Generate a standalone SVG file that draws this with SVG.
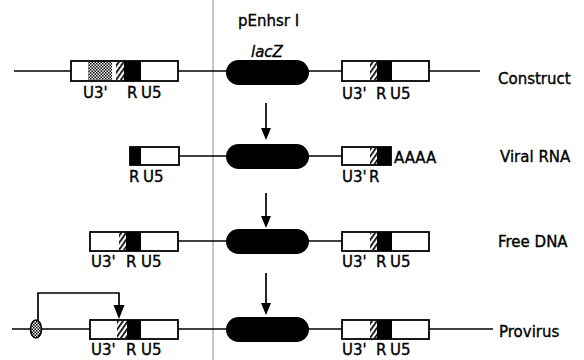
<svg xmlns="http://www.w3.org/2000/svg" width="584" height="360" viewBox="0 0 584 360">
<style>
.t{font-family:"DejaVu Sans","Liberation Sans",sans-serif;font-size:15px;fill:#000;stroke:#000;stroke-width:0.35}
.box{fill:#fff;stroke:#000;stroke-width:1.8}
.blk{fill:#000}
.ln{stroke:#000;stroke-width:1.7;fill:none}
.oval{fill:#000}
</style>
<defs>
<pattern id="stip" patternUnits="userSpaceOnUse" width="3" height="3">
<rect width="3" height="3" fill="#fff"/>
<rect width="1.5" height="1.5" fill="#000"/>
<rect x="1.5" y="1.5" width="1.5" height="1.5" fill="#000"/>
</pattern>
<pattern id="hatch" patternUnits="userSpaceOnUse" width="4" height="4" patternTransform="rotate(-55)">
<rect width="4" height="4" fill="#fff"/>
<rect width="4" height="1.7" fill="#000"/>
</pattern>
</defs>

<line x1="213" y1="0" x2="213" y2="360" stroke="#888" stroke-width="1"/>

<g id="connectors">
<line class="ln" x1="14" y1="71" x2="71" y2="71"/>
<line class="ln" x1="178" y1="71" x2="342" y2="71"/>
<line class="ln" x1="429" y1="71" x2="480" y2="71"/>
<line class="ln" x1="179" y1="156" x2="342" y2="156"/>
<line class="ln" x1="178" y1="241" x2="342" y2="241"/>
<line class="ln" x1="12" y1="329" x2="90" y2="329"/>
<line class="ln" x1="178" y1="329" x2="342" y2="329"/>
<line class="ln" x1="429" y1="329" x2="493" y2="329"/>
<line class="ln" x1="266" y1="103" x2="266" y2="128"/>
<path d="M261,128 L271,128 L266,140 Z" fill="#000"/>
<line class="ln" x1="266" y1="193" x2="266" y2="216"/>
<path d="M261,216 L271,216 L266,228 Z" fill="#000"/>
<line class="ln" x1="266" y1="273" x2="266" y2="303"/>
<path d="M261,303 L271,303 L266,315 Z" fill="#000"/>
<path class="ln" d="M38,321 V293 H119 V306"/>
<path d="M113.5,305 L124.5,305 L119,319 Z" fill="#000"/>
</g>

<g id="title">
<text class="t" x="238" y="26" font-size="14">pEnhsr I</text>
<text class="t" x="251" y="57" font-style="italic">lacZ</text>
</g>

<!-- Row 1: Construct -->
<g id="construct-ltr5">
<rect class="box" x="71" y="61" width="107" height="20"/>
<rect x="88" y="62" width="24" height="18" fill="url(#stip)"/>
<rect x="116" y="62" width="8" height="18" fill="url(#hatch)"/>
<rect class="blk" x="124" y="61" width="17" height="20"/>
<text class="t" x="83" y="98">U3'</text>
<text class="t" x="127" y="98">R</text>
<text class="t" x="141" y="98">U5</text>
</g>
<g id="construct-lacz"><rect class="oval" x="226" y="60" width="83" height="25" rx="12.5"/></g>
<g id="construct-ltr3">
<rect class="box" x="342" y="61" width="87" height="20"/>
<rect x="370" y="62" width="7" height="18" fill="url(#hatch)"/>
<rect class="blk" x="377" y="61" width="15" height="20"/>
<text class="t" x="342" y="99">U3'</text>
<text class="t" x="376" y="99">R</text>
<text class="t" x="390" y="99">U5</text>
</g>
<text class="t" x="498" y="84">Construct</text>

<!-- Row 2: Viral RNA -->
<g id="rna-left">
<rect class="box" x="130" y="147" width="49" height="18"/>
<rect class="blk" x="130" y="147" width="11" height="18" rx="1.5"/>
<text class="t" x="129" y="182">R</text>
<text class="t" x="143" y="182">U5</text>
</g>
<g id="rna-lacz"><rect class="oval" x="226" y="144" width="83" height="25" rx="12.5"/></g>
<g id="rna-right">
<rect class="box" x="342" y="147" width="49" height="18"/>
<rect x="370" y="148" width="7" height="16" fill="url(#hatch)"/>
<rect class="blk" x="377" y="147" width="14" height="18"/>
<text class="t" x="342" y="182">U3'</text>
<text class="t" x="369" y="182">R</text>
<text class="t" x="394" y="163">AAAA</text>
</g>
<text class="t" x="500" y="162">Viral RNA</text>

<!-- Row 3: Free DNA -->
<g id="dna-left">
<rect class="box" x="90" y="232" width="88" height="19"/>
<rect x="119" y="233" width="7" height="17" fill="url(#hatch)"/>
<rect class="blk" x="126" y="232" width="15" height="19"/>
<text class="t" x="91" y="267">U3'</text>
<text class="t" x="126" y="267">R</text>
<text class="t" x="141" y="267">U5</text>
</g>
<g id="dna-lacz"><rect class="oval" x="226" y="229" width="83" height="25" rx="12.5"/></g>
<g id="dna-right">
<rect class="box" x="342" y="232" width="87" height="19"/>
<rect x="370" y="233" width="7" height="17" fill="url(#hatch)"/>
<rect class="blk" x="377" y="232" width="15" height="19"/>
<text class="t" x="342" y="267">U3'</text>
<text class="t" x="376" y="267">R</text>
<text class="t" x="390" y="267">U5</text>
</g>
<text class="t" x="498" y="247">Free DNA</text>

<!-- Row 4: Provirus -->
<g id="enhancer"><ellipse cx="36" cy="329" rx="5.5" ry="9" fill="url(#stip)" stroke="#000" stroke-width="1.6"/></g>
<g id="pro-left">
<rect class="box" x="90" y="320" width="88" height="19"/>
<rect x="117" y="321" width="10" height="17" fill="url(#hatch)"/>
<rect class="blk" x="127" y="320" width="14" height="19"/>
<text class="t" x="91" y="355">U3'</text>
<text class="t" x="126" y="355">R</text>
<text class="t" x="141" y="355">U5</text>
</g>
<g id="pro-lacz"><rect class="oval" x="226" y="317" width="83" height="25" rx="12.5"/></g>
<g id="pro-right">
<rect class="box" x="342" y="320" width="87" height="19"/>
<rect x="370" y="321" width="7" height="17" fill="url(#hatch)"/>
<rect class="blk" x="377" y="320" width="15" height="19"/>
<text class="t" x="342" y="355">U3'</text>
<text class="t" x="376" y="355">R</text>
<text class="t" x="390" y="355">U5</text>
</g>
<text class="t" x="499" y="337">Provirus</text>
</svg>
